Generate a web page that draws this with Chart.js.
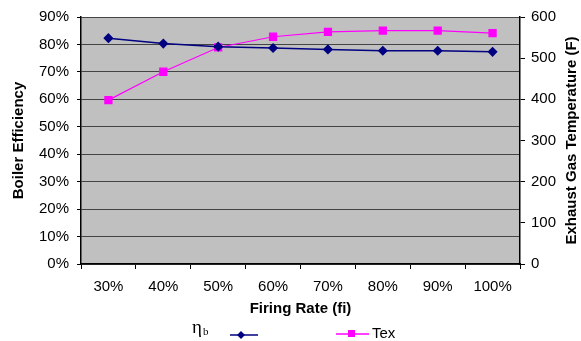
<!DOCTYPE html>
<html>
<head>
<meta charset="utf-8">
<script src="https://cdn.jsdelivr.net/npm/chart.js@4/dist/chart.umd.min.js"></script>
<style>
  body { margin: 0; background: #fff; }
  #wrap { width: 581px; height: 341px; }
</style>
</head>
<body>
<div id="wrap"><canvas id="chart" width="581" height="341"></canvas></div>
<script>
const firingRates = ["30%", "40%", "50%", "60%", "70%", "80%", "90%", "100%"];
const boilerEff = [82.3, 80.3, 79.2, 78.7, 78.2, 77.7, 77.7, 77.3];
const exhaustTemp = [398, 467, 526, 552, 564, 567, 567, 561];

const AXIS_FONT = "'Liberation Sans', Arial, sans-serif";

// gray plot background
const plotBg = {
    id: "plotBg",
    beforeDraw(chart) {
        const a = chart.chartArea, ctx = chart.ctx;
        ctx.save();
        ctx.fillStyle = "#c0c0c0";
        ctx.fillRect(a.left, a.top, a.right - a.left, a.bottom - a.top);
        ctx.restore();
    }
};

// right title reads bottom-to-top like the left one
const rightTitle = {
    id: "rightTitle",
    afterDraw(chart) {
        const a = chart.chartArea, ctx = chart.ctx;
        ctx.save();
        ctx.translate(572, (a.top + a.bottom) / 2);
        ctx.rotate(-Math.PI / 2);
        ctx.font = "bold 15px " + AXIS_FONT;
        ctx.fillStyle = "#000";
        ctx.textAlign = "center";
        ctx.textBaseline = "middle";
        ctx.fillText("Exhaust Gas Temperature (F)", 0, 0);
        ctx.restore();
    }
};

// legend drawn like the original: "ηb" label then marker, marker then "Tex"
const oddLegend = {
    id: "oddLegend",
    afterDraw(chart) {
        const ctx = chart.ctx;
        const y = 335;
        ctx.save();
        ctx.fillStyle = "#000";
        ctx.textBaseline = "alphabetic";
        ctx.font = "19px 'Liberation Serif', serif";
        ctx.fillText("\u03b7", 192, 333);
        ctx.font = "11px 'Liberation Serif', serif";
        ctx.fillText("b", 203, 335);

        ctx.strokeStyle = "#000080";
        ctx.lineWidth = 1.5;
        ctx.beginPath(); ctx.moveTo(230, y); ctx.lineTo(258, y); ctx.stroke();
        ctx.fillStyle = "#000080";
        ctx.beginPath();
        ctx.moveTo(241, y - 4); ctx.lineTo(245, y); ctx.lineTo(241, y + 4); ctx.lineTo(237, y);
        ctx.closePath(); ctx.fill();

        ctx.strokeStyle = "#ff00ff";
        ctx.beginPath(); ctx.moveTo(336, y - 1); ctx.lineTo(369, y - 1); ctx.stroke();
        ctx.fillStyle = "#ff00ff";
        ctx.fillRect(348, y - 5, 7, 7);

        ctx.fillStyle = "#000";
        ctx.font = "15px " + AXIS_FONT;
        ctx.textBaseline = "middle";
        ctx.fillText("Tex", 372, y - 1);
        ctx.restore();
    }
};

new Chart(document.getElementById("chart"), {
    type: "line",
    data: {
        labels: firingRates,
        datasets: [{
            label: "ηb",
            data: boilerEff,
            yAxisID: "y",
            borderColor: "#000080",
            backgroundColor: "#000080",
            borderWidth: 1.5,
            pointStyle: "rectRot",
            pointRadius: 4,
            tension: 0
        }, {
            label: "Tex",
            data: exhaustTemp,
            yAxisID: "y1",
            borderColor: "#ff00ff",
            backgroundColor: "#ff00ff",
            borderWidth: 1.2,
            pointStyle: "rect",
            pointRadius: 5,
            tension: 0
        }]
    },
    options: {
        responsive: false,
        animation: false,
        layout: { padding: { top: 16, bottom: 23, left: 0, right: 0 } },
        plugins: {
            legend: { display: false },
            tooltip: { enabled: false }
        },
        scales: {
            x: {
                offset: true,
                grid: { offset: true, drawOnChartArea: false, tickLength: 5, tickColor: "#000" },
                border: { color: "#000", width: 1.5 },
                ticks: { color: "#000", font: { family: AXIS_FONT, size: 15 }, padding: 9, maxRotation: 0 },
                title: { display: true, text: "Firing Rate (fi)", color: "#000", font: { family: AXIS_FONT, size: 15, weight: "bold" }, padding: 0 },
                afterFit(s) { s.height = 54; }
            },
            y: {
                position: "left",
                min: 0, max: 90,
                ticks: { stepSize: 10, color: "#000", font: { family: AXIS_FONT, size: 15 }, padding: 8, callback: v => v + "%" },
                grid: { color: "#444", tickColor: "#000", tickLength: 4 },
                border: { color: "#000", width: 1.5 },
                title: { display: true, text: "Boiler Efficiency", color: "#000", font: { family: AXIS_FONT, size: 15, weight: "bold" }, padding: { top: 10 } },
                afterFit(s) { s.width = 81; }
            },
            y1: {
                position: "right",
                min: 0, max: 600,
                ticks: { stepSize: 100, color: "#000", font: { family: AXIS_FONT, size: 15 }, padding: 6 },
                grid: { drawOnChartArea: false, tickColor: "#000", tickLength: 5 },
                border: { color: "#000", width: 1.5 },
                title: { display: false },
                afterFit(s) { s.width = 61; }
            }
        }
    },
    plugins: [plotBg, rightTitle, oddLegend]
});
</script>
</body>
</html>
